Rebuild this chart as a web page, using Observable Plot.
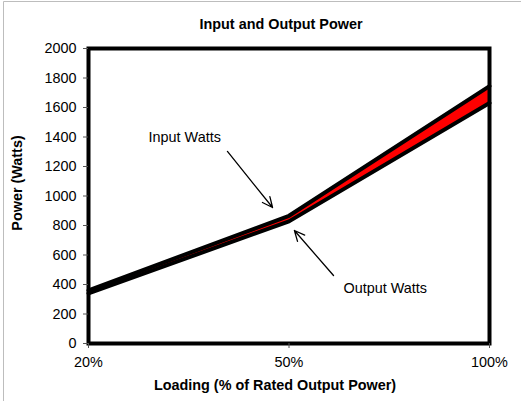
<!DOCTYPE html>
<html><head><meta charset="utf-8">
<script src="https://cdn.jsdelivr.net/npm/d3@7"></script>
<script src="https://cdn.jsdelivr.net/npm/@observablehq/plot@0.6"></script>
<style>body{margin:0;background:#fff}</style>
</head><body><div id="chart"></div>
<script>
const categories = ["20%", "50%", "100%"];
const inputWatts = [360, 866, 1745];
const outputWatts = [340, 828, 1630];
const yTicks = [0, 200, 400, 600, 800, 1000, 1200, 1400, 1600, 1800, 2000];
const annotationLabels = ["Input Watts", "Output Watts"];
const annotationTextX = [0.48, 1.48];
const annotationTextY = [1397, 373];
const arrowX1 = [0.693, 1.222];
const arrowY1 = [1302, 461];
const arrowX2 = [0.918, 1.027];
const arrowY2 = [922, 766];

const data = categories.map((c, i) => ({i, c, input: inputWatts[i], output: outputWatts[i]}));
const notes = annotationLabels.map((t, i) => ({t, x: annotationTextX[i], y: annotationTextY[i]}));
const arrows = arrowX1.map((d, i) => ({x1: d, y1: arrowY1[i], x2: arrowX2[i], y2: arrowY2[i]}));

const font = "Liberation Sans, Arial, sans-serif";
const fs = 14.4;
const plot = Plot.plot({
  width: 521, height: 401,
  marginLeft: 88, marginRight: 32, marginTop: 48, marginBottom: 58,
  style: {fontFamily: font, fontSize: fs + "px", color: "#000", background: "#fff"},
  x: {type: "linear", domain: [0, 2], axis: null},
  y: {domain: [0, 2000], axis: null},
  marks: [
    Plot.areaY(data, {x: "i", y1: "output", y2: "input", fill: "#ff0000"}),
    Plot.line(data, {x: "i", y: "input", stroke: "#000", strokeWidth: 4}),
    Plot.line(data, {x: "i", y: "output", stroke: "#000", strokeWidth: 4}),
    Plot.frame({stroke: "#000", strokeWidth: 4}),
    Plot.axisY(yTicks, {anchor: "left", tickSize: 5, tickPadding: 7, stroke: "#555", fill: "#000", fontSize: fs, label: null, tickFormat: d3.format("d")}),
    Plot.axisX([0, 1, 2], {anchor: "bottom", tickSize: 5, tickPadding: 8, stroke: "#555", fill: "#000", fontSize: fs, label: null, tickFormat: i => categories[i]}),
    Plot.text(["Input and Output Power"], {frameAnchor: "top", lineAnchor: "middle", textAnchor: "middle", dy: -24, dx: -8, fontWeight: "bold", fontSize: fs}),
    Plot.text(["Loading (% of Rated Output Power)"], {frameAnchor: "bottom", lineAnchor: "middle", textAnchor: "middle", dy: 42, dx: -14, fontWeight: "bold", fontSize: fs}),
    Plot.text(["Power (Watts)"], {frameAnchor: "left", lineAnchor: "middle", textAnchor: "middle", dx: -71, dy: -13, rotate: -90, fontWeight: "bold", fontSize: fs}),
    Plot.text(notes, {x: "x", y: "y", text: "t", fontSize: fs}),
    Plot.arrow(arrows, {x1: "x1", y1: "y1", x2: "x2", y2: "y2", stroke: "#000", strokeWidth: 1.3, headLength: 13, headAngle: 50})
  ]
});
document.getElementById("chart").appendChild(plot);
const svg = d3.select(plot);
svg.append("path").attr("d", "M3.5,401V1.5H521").attr("fill", "none").attr("stroke", "#bdbdbd").attr("stroke-width", 1);
</script></body></html>
